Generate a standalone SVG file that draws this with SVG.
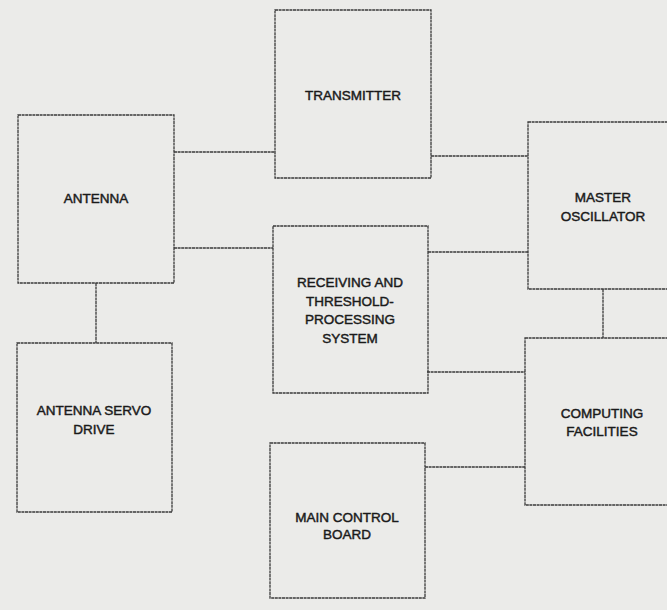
<svg xmlns="http://www.w3.org/2000/svg" width="667" height="610" viewBox="0 0 667 610">
<style>
.box{fill:none;stroke:#3a3a3a;stroke-width:1.3;stroke-dasharray:3 0.6}
.ln{fill:none;stroke:#3a3a3a;stroke-width:1.3;stroke-dasharray:3 0.6}
text{font-family:"Liberation Sans",Arial,sans-serif;font-size:13.5px;fill:#1a1a1a;text-anchor:middle;stroke:#1a1a1a;stroke-width:0.45}
</style>
<rect width="667" height="610" fill="#ebebe9"/>
<g id="connectors">
<line class="ln" x1="174" y1="152" x2="275" y2="152"/>
<line class="ln" x1="174" y1="248" x2="273" y2="248"/>
<line class="ln" x1="96" y1="283" x2="96" y2="343"/>
<line class="ln" x1="431" y1="156" x2="528" y2="156"/>
<line class="ln" x1="428" y1="252" x2="528" y2="252"/>
<line class="ln" x1="603" y1="289" x2="603" y2="338"/>
<line class="ln" x1="427" y1="372" x2="525" y2="372"/>
<line class="ln" x1="425" y1="467" x2="525" y2="467"/>
</g>
<g id="antenna">
<rect class="box" x="18" y="115" width="156" height="168"/>
<text x="96" y="203">ANTENNA</text>
</g>
<g id="transmitter">
<rect class="box" x="275" y="10" width="156" height="168"/>
<text x="353" y="100">TRANSMITTER</text>
</g>
<g id="master-oscillator">
<rect class="box" x="528" y="122" width="156" height="167"/>
<text x="603" y="202">MASTER</text>
<text x="603" y="221">OSCILLATOR</text>
</g>
<g id="receiving">
<rect class="box" x="273" y="226" width="155" height="167"/>
<text x="350" y="287">RECEIVING AND</text>
<text x="350" y="306">THRESHOLD-</text>
<text x="350" y="324">PROCESSING</text>
<text x="350" y="343">SYSTEM</text>
</g>
<g id="antenna-servo-drive">
<rect class="box" x="17" y="343" width="155" height="169"/>
<text x="94" y="415">ANTENNA SERVO</text>
<text x="94" y="434">DRIVE</text>
</g>
<g id="computing-facilities">
<rect class="box" x="525" y="338" width="156" height="167"/>
<text x="602" y="418">COMPUTING</text>
<text x="602" y="436">FACILITIES</text>
</g>
<g id="main-control-board">
<rect class="box" x="270" y="443" width="155" height="155"/>
<text x="347" y="522">MAIN CONTROL</text>
<text x="347" y="539">BOARD</text>
</g>
</svg>
